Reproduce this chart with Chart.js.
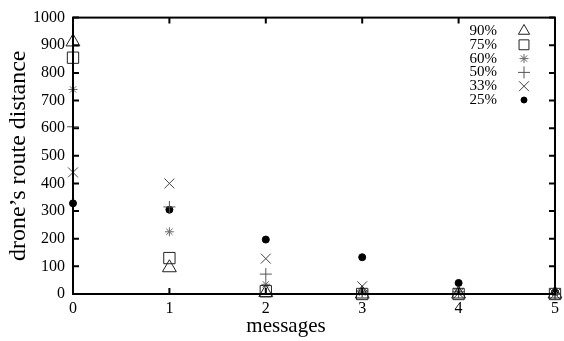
<!DOCTYPE html>
<html>
<head>
<meta charset="utf-8">
<script src="https://cdn.jsdelivr.net/npm/chart.js@4/dist/chart.umd.min.js"></script>
<style>
  html, body { margin: 0; padding: 0; background: #fff; }
  #wrap { width: 564px; height: 341px; }
</style>
</head>
<body>
<div id="wrap"><canvas id="c"></canvas></div>
<script>
// data
const messages = [0, 1, 2, 3, 4, 5];
const p90 = [912, 95, 5, 0, 0, 0];
const p75 = [855, 130, 10, 0, 0, 0];
const p60 = [740, 225, 35, 5, 3, 0];
const p50 = [605, 315, 72, 10, 8, 0];
const p33 = [440, 400, 128, 28, 3, 0];
const p25 = [328, 305, 197, 133, 40, 5];
const yTicks = [0, 100, 200, 300, 400, 500, 600, 700, 800, 900, 1000];

const FONT = '"Liberation Serif", "DejaVu Serif", serif';

const series = [
  { label: '90%', data: p90, style: 'triangle', color: '#222', r: 8 },
  { label: '75%', data: p75, style: 'rect', color: '#222', r: 8 },
  { label: '60%', data: p60, style: 'star', color: '#666', r: 4.5 },
  { label: '50%', data: p50, style: 'cross', color: '#555', r: 6 },
  { label: '33%', data: p33, style: 'crossRot', color: '#444', r: 7 },
  { label: '25%', data: p25, style: 'circle', color: '#000', r: 3.5 },
];

const datasets = series.map(s => ({
  label: s.label,
  data: s.data.map((v, i) => ({ x: messages[i], y: v })),
  pointStyle: s.style,
  pointRadius: s.r,
  pointBorderColor: s.color,
  pointBackgroundColor: s.style === 'circle' ? s.color : 'rgba(0,0,0,0)',
  pointBorderWidth: 1,
  showLine: false,
  clip: false,
}));

// frame, inner ticks, x title and legend
const framePlugin = {
  id: 'frame',
  afterDraw(chart) {
    const { ctx, chartArea: a, scales: { x, y } } = chart;
    ctx.save();
    ctx.strokeStyle = '#000';
    ctx.lineWidth = 2;
    ctx.strokeRect(a.left, a.top, a.right - a.left, a.bottom - a.top);
    ctx.beginPath();
    yTicks.forEach(v => {
      const py = y.getPixelForValue(v);
      ctx.moveTo(a.left, py); ctx.lineTo(a.left + 6, py);
      ctx.moveTo(a.right, py); ctx.lineTo(a.right - 6, py);
    });
    messages.forEach(v => {
      const px = x.getPixelForValue(v);
      ctx.moveTo(px, a.bottom); ctx.lineTo(px, a.bottom - 6);
      ctx.moveTo(px, a.top); ctx.lineTo(px, a.top + 6);
    });
    ctx.stroke();

    ctx.fillStyle = '#000';
    ctx.textAlign = 'center';
    ctx.textBaseline = 'middle';
    ctx.font = '21px ' + FONT;
    ctx.fillText('messages', chart.width / 2 + 4, 326);

    // legend
    ctx.font = '15px ' + FONT;
    ctx.textAlign = 'right';
    series.forEach((s, i) => {
      const ly = 31 + i * 13.8;
      ctx.fillStyle = '#000';
      ctx.fillText(s.label, 497, ly);
      ctx.strokeStyle = s.color;
      ctx.lineWidth = 1;
      ctx.fillStyle = s.style === 'circle' ? s.color : 'rgba(0,0,0,0)';
      const r = s.style === 'triangle' ? 6.5 : s.style === 'rect' ? 7 : s.style === 'circle' ? 3 : s.r;
      Chart.helpers.drawPoint(ctx, { pointStyle: s.style, radius: r, borderWidth: 1 }, 524, ly);
    });
    ctx.restore();
  }
};

new Chart(document.getElementById('c'), {
  type: 'scatter',
  data: { datasets },
  plugins: [framePlugin],
  options: {
    responsive: true,
    maintainAspectRatio: false,
    animation: false,
    layout: { padding: { left: 0, right: 3, top: 15, bottom: 0 } },
    plugins: { legend: { display: false }, tooltip: { enabled: false } },
    scales: {
      x: {
        type: 'linear', min: 0, max: 5,
        afterFit: s => { s.height = 47; },
        afterBuildTicks: s => { s.ticks = messages.map(v => ({ value: v })); },
        grid: { display: false, drawTicks: false },
        border: { display: false },
        ticks: { color: '#000', font: { family: FONT, size: 16 }, padding: 5, maxRotation: 0, callback: v => String(v) },
      },
      y: {
        type: 'linear', min: 0, max: 1000,
        afterFit: s => { s.width = 73; },
        afterBuildTicks: s => { s.ticks = yTicks.map(v => ({ value: v })); },
        grid: { display: false, drawTicks: false },
        border: { display: false },
        ticks: { color: '#000', font: { family: FONT, size: 16 }, padding: 8, callback: v => String(v) },
        title: { display: true, text: 'drone’s route distance', color: '#000', font: { family: FONT, size: 24 }, padding: { top: 4, bottom: 0 } },
      },
    },
  },
});
</script>
</body>
</html>
